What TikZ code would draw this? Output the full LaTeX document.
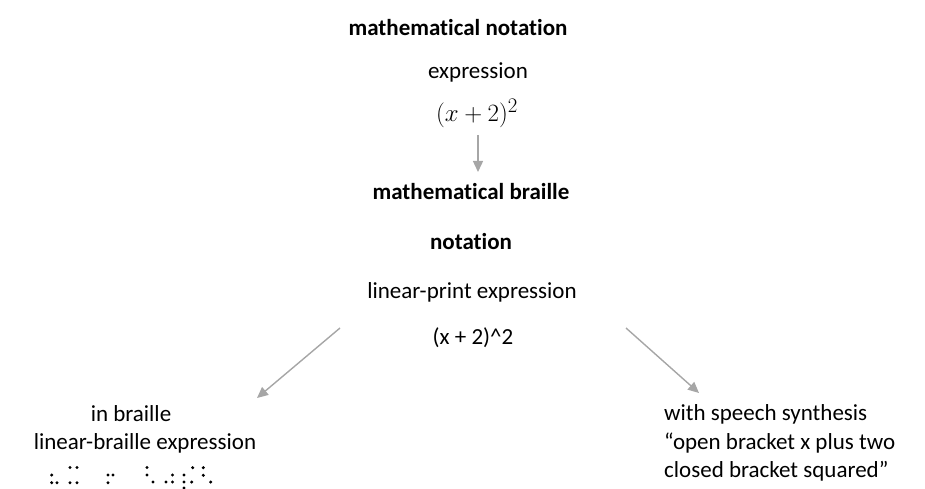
\documentclass[tikz,border=0pt]{standalone}
\usepackage{amsmath}
\usepackage{fontspec}
\setmainfont[Ligatures=NoCommon]{Carlito}
\usepackage{xcolor}
\definecolor{arrowgrey}{HTML}{A6A6A6}
\usepackage{tikz}
\usetikzlibrary{arrows.meta, positioning, calc}

\begin{document}
\begin{tikzpicture}[x=1pt, y=-1pt,
  txt/.style={inner sep=0pt, font=\fontsize{23}{27}\selectfont},
  head/.style={txt, font=\fontsize{23}{27}\selectfont\bfseries},
  flow/.style={draw=arrowgrey, line width=1.4pt, -{Triangle[length=11pt, width=10pt]}}
]
\useasboundingbox (0,0) rectangle (925,489);
\node[head] (mn) at (458, 28) {mathematical notation};
\node[txt] (ex) at (478, 72) {expression};
\node[txt, font=\fontsize{28}{32}\selectfont] (em) at (477, 113) {$(x+2)^2$};
\node[head] (mb) at (471, 192) {mathematical braille};
\node[head] (nt) at (471, 242) {notation};
\node[txt] (lp) at (472, 292) {linear-print expression};
\node[txt] (lx) at (473, 338) {(x + 2)\textasciicircum 2};
\node[txt] (ib) at (131, 414) {in braille};
\node[txt] (lb) at (145, 443) {linear-braille expression};
\node[txt, anchor=west] (ws) at (664, 414) {with speech synthesis};
\node[txt, anchor=west] (sp1) at (664, 443) {“open bracket x plus two};
\node[txt, anchor=west] (sp2) at (664, 471) {closed bracket squared”};
\coordinate (ts) at (478, 135);
\coordinate (te) at (478, 172);
\coordinate (ls) at (340, 328);
\coordinate (le) at (257, 398);
\coordinate (rs) at (626, 328);
\coordinate (re) at (699, 393);
\draw[flow] (ts) -- (te);
\draw[flow] (ls) -- (le);
\draw[flow] (rs) -- (re);
% braille cells
\foreach \bx/\by in {51.7/475, 51.7/482.7, 57/482.7,
    70/467.5, 77/467.5, 70/482.7, 77/482.7,
    108/475, 113/475, 108/482.7,
    147/467.5, 147/475, 153/482,
    166/482, 172.5/475, 172.5/482,
    184/475, 184/482, 184/488, 191.7/482, 192.7/467.7,
    203.3/467.7, 203.3/475.3, 210.7/482}
  \fill (\bx, \by) circle (1.7pt);
\end{tikzpicture}
\end{document}
